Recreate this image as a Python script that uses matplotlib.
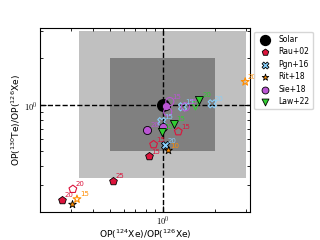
import matplotlib
matplotlib.use("Agg")
import matplotlib.pyplot as plt
import matplotlib.ticker as mticker

# x = OP(124Xe)/OP(126Xe), y = OP(130Te)/OP(126Xe), labels = mass numbers
rau_x = [0.267, 0.308, 0.52, 0.833, 0.889, 1.23]
rau_y = [0.24, 0.283, 0.32, 0.462, 0.552, 0.67]
rau_fill = [True, False, True, True, False, False]
rau_lab = ["20", "20", "25", "15", "15", "15"]

pgn_x = [1.03, 0.99, 1.30, 1.92]
pgn_y = [0.544, 0.777, 0.97, 1.015]
pgn_fill = [True, False, False, False]
pgn_lab = ["20", "15", "15", "20"]

rit_x = [0.304, 0.325, 1.07, 2.96]
rit_y = [0.226, 0.244, 0.505, 1.41]
rit_fill = [True, False, True, False]
rit_lab = ["", "15", "10", "20"]

sie_x = [1.04, 0.82, 1.01, 1.10, 1.07, 1.35]
sie_y = [0.985, 0.69, 0.72, 1.05, 0.90, 0.97]
sie_fill = [True, True, True, False, False, False]
sie_lab = ["", "20", "", "15", "", "15"]

law_x = [1.54, 1.62, 1.155, 0.987]
law_y = [0.985, 1.077, 0.754, 0.67]
law_fill = [False, True, True, True]
law_lab = ["", "20", "15", "15"]

fig = plt.figure(figsize=(3.2, 2.4), dpi=100)
ax = fig.add_axes([0.125, 0.115, 0.656, 0.768])

ax.set_xscale("log")
ax.set_yscale("log")
ax.set_xlim(0.2, 3.15)
ax.set_ylim(0.2, 3.15)

# factor 3 and factor 2 boxes
ax.fill_between([1/3, 3], 1/3, 3, color="#c0c0c0", lw=0, zorder=0)
ax.fill_between([0.5, 2], 0.5, 2, color="#808080", lw=0, zorder=0)

ax.axvline(1, color="k", ls="--", lw=1, zorder=1)
ax.axhline(1, color="k", ls="--", lw=1, zorder=1)

ax.scatter([1], [1], s=70, c="k", marker="o", label="Solar", zorder=3)

series = [
    ("Rau+02", rau_x, rau_y, rau_fill, rau_lab, "crimson", "p"),
    ("Pgn+16", pgn_x, pgn_y, pgn_fill, pgn_lab, "lightskyblue", "X"),
    ("Rit+18", rit_x, rit_y, rit_fill, rit_lab, "darkorange", "*"),
    ("Sie+18", sie_x, sie_y, sie_fill, sie_lab, "mediumorchid", "o"),
    ("Law+22", law_x, law_y, law_fill, law_lab, "limegreen", "v"),
]

for name, xs, ys, fills, labs, col, mk in series:
    first = True
    for x, y, f, lab in zip(xs, ys, fills, labs):
        if f:
            ax.scatter(x, y, s=34, marker=mk, c=col, edgecolors="k", linewidths=0.6,
                       zorder=4, label=name if first else None)
            first = False
        else:
            ax.scatter(x, y, s=34, marker=mk, facecolors="none", edgecolors=col,
                       linewidths=0.8, zorder=4)
        if lab:
            ax.annotate(lab, (x, y), xytext=(2, 2), textcoords="offset points",
                        fontsize=5, color=col, zorder=5)

ax.set_xticks([1])
ax.set_yticks([1])
ax.set_xticklabels([r"$10^0$"])
ax.set_yticklabels([r"$10^0$"])
for t in ax.get_xticklabels() + ax.get_yticklabels():
    t.set_math_fontfamily("cm")
ax.xaxis.set_minor_formatter(mticker.NullFormatter())
ax.yaxis.set_minor_formatter(mticker.NullFormatter())
ax.tick_params(which="both", direction="in", top=True, right=True, labelsize=6, pad=1.5)
ax.tick_params(which="major", length=4)
ax.tick_params(which="minor", length=2)

ax.set_xlabel(r"OP($^{124}$Xe)/OP($^{126}$Xe)", fontsize=6.6, labelpad=0)
ax.set_ylabel(r"OP($^{130}$Te)/OP($^{126}$Xe)", fontsize=6.6, labelpad=1)

ax.legend(loc="upper left", bbox_to_anchor=(1.02, 0.98), fontsize=5.5,
          borderaxespad=0, handletextpad=0.8, labelspacing=0.45, borderpad=0.4,
          markerscale=0.85)

fig.savefig("out.png", dpi=100)
